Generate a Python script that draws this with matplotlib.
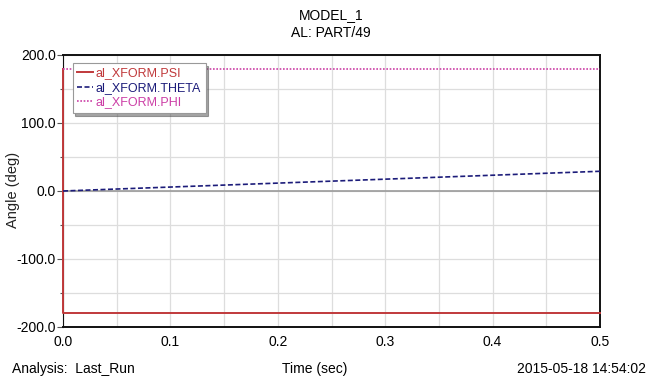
import numpy as np
import matplotlib
matplotlib.use('Agg')
import matplotlib.pyplot as plt
from matplotlib.ticker import MultipleLocator

# data
t_psi = [0.0, 0.0, 0.5]
psi = [180.0, -180.0, -180.0]
t_theta = [0.0, 0.1, 0.2, 0.3, 0.4, 0.5]
theta = [0.0, 5.8, 11.6, 17.4, 23.2, 29.0]
t_phi = [0.0, 0.5]
phi = [180.0, 180.0]

labels = ["al_XFORM.PSI", "al_XFORM.THETA", "al_XFORM.PHI"]
colors = ["#c0393b", "#1c1c7a", "#cc3fa6"]

plt.rcParams['font.family'] = ['Liberation Sans', 'DejaVu Sans']
plt.rcParams['font.size'] = 10

fig = plt.figure(figsize=(6.49, 3.79), dpi=100)
ax = fig.add_axes([63/649, 1-327/379, (600-63)/649, (327-55)/379])

ax.plot(t_psi, psi, color=colors[0], lw=1.4, label=labels[0], zorder=3, clip_on=False)
ax.plot(t_theta, theta, color=colors[1], lw=1.2, ls=(0, (3, 1.5)), label=labels[1], zorder=3)
ax.plot(t_phi, phi, color=colors[2], lw=1.2, ls=(0, (1, 1)), label=labels[2], zorder=3)
ax.axhline(0, color="#9a9a9a", lw=1.2, zorder=2)

ax.set_xlim(0, 0.5)
ax.set_ylim(-200, 200)
ax.xaxis.set_major_locator(MultipleLocator(0.1))
ax.xaxis.set_minor_locator(MultipleLocator(0.05))
ax.yaxis.set_major_locator(MultipleLocator(100))
ax.yaxis.set_minor_locator(MultipleLocator(50))
ax.xaxis.set_major_formatter(plt.FuncFormatter(lambda v, p: f"{v:.1f}"))
ax.yaxis.set_major_formatter(plt.FuncFormatter(lambda v, p: f"{v:.1f}"))
ax.grid(True, which='both', color="#dddddd", lw=0.9, zorder=1)
ax.tick_params(axis='x', which='both', length=0, pad=6, labelsize=10)
ax.tick_params(axis='y', which='major', length=4, width=0.8, color="#555555", labelsize=10, pad=1)
ax.tick_params(axis='y', which='minor', length=2.5, width=0.8, color="#555555")
for s in ax.spines.values():
    s.set_color("#111111")
    s.set_linewidth(1.4)
ax.spines['left'].set_linewidth(0.8)
ax.spines['left'].set_zorder(2)

leg = ax.legend(loc='upper left', bbox_to_anchor=(0.018, 0.97), frameon=True, fancybox=False,
                shadow=True, handlelength=1.3, handletextpad=0.2, borderpad=0.35,
                labelspacing=0.2, fontsize=9, borderaxespad=0)
leg.get_frame().set_edgecolor("#999999")
leg.get_frame().set_linewidth(0.8)
for txt, c in zip(leg.get_texts(), colors):
    txt.set_color(c)

fig.text(13/649, 1-190/379, "Angle (deg)", rotation=90,
         ha='center', va='center', fontsize=10.5, color="#222222")

fig.text(331/649, 1-15/379, "MODEL_1", ha='center', va='center', fontsize=10)
fig.text(331/649, 1-33/379, "AL: PART/49", ha='center', va='center', fontsize=10)
fig.text(12/649, 1-369/379, "Analysis:  Last_Run", ha='left', va='center', fontsize=10)
fig.text(315/649, 1-369/379, "Time (sec)", ha='center', va='center', fontsize=10)
fig.text(646/649, 1-369/379, "2015-05-18 14:54:02", ha='right', va='center', fontsize=10)

fig.savefig("out.png", dpi=100)
